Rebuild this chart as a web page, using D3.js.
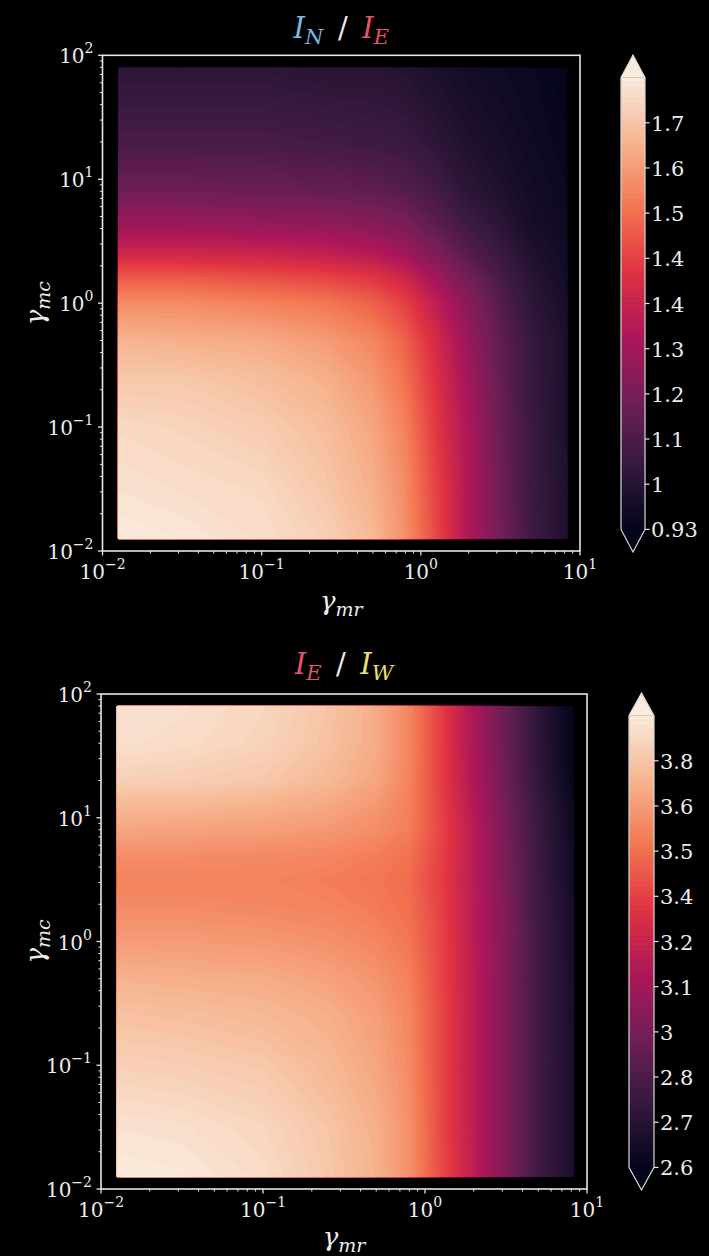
<!DOCTYPE html>
<html>
<head>
<meta charset="UTF-8">
<title>I_N / I_E and I_E / I_W</title>
<script src="https://d3js.org/d3.v7.min.js"></script>
<style>
  body { margin: 0; background: #000; }
  svg { display: block; background: #000; }
  text { fill: #ececec; font-family: "DejaVu Serif", "Liberation Serif", serif; }
  .tick-label { font-size: 20px; }
  .cb-label { font-size: 21px; }
  .axis-label { font-size: 26px; font-style: italic; }
  .title { font-size: 29px; }
</style>
</head>
<body>
<div id="chart"></div>
<script>
// gamma_mr sample positions (log10), shared by both grids
var colsLog = [-1.9, -1.5, -1.0, -0.6, -0.3, -0.1, 0.1, 0.3, 0.5, 0.7, 0.92];

// ---- top panel: I_N / I_E ----
// gamma_mc sample positions (log10), rows from bottom to top
var rowsLogTop = [-1.9, -1.5, -1.0, -0.6, -0.3, 0.0, 0.2, 0.4, 0.6, 0.9, 1.3, 1.9];
var valuesTop = [
  [1.78, 1.77, 1.75, 1.72, 1.67, 1.59, 1.45, 1.30, 1.18, 1.07, 1.00],
  [1.76, 1.75, 1.74, 1.70, 1.65, 1.58, 1.44, 1.30, 1.17, 1.06, 1.00],
  [1.74, 1.73, 1.71, 1.68, 1.63, 1.56, 1.42, 1.29, 1.16, 1.06, 0.99],
  [1.70, 1.70, 1.68, 1.65, 1.60, 1.53, 1.40, 1.27, 1.15, 1.05, 0.99],
  [1.66, 1.65, 1.64, 1.61, 1.57, 1.50, 1.38, 1.25, 1.14, 1.05, 0.99],
  [1.58, 1.58, 1.56, 1.54, 1.50, 1.44, 1.33, 1.22, 1.12, 1.03, 0.98],
  [1.49, 1.49, 1.47, 1.45, 1.42, 1.37, 1.27, 1.18, 1.09, 1.02, 0.97],
  [1.37, 1.37, 1.36, 1.34, 1.31, 1.27, 1.20, 1.12, 1.06, 1.00, 0.97],
  [1.27, 1.27, 1.26, 1.25, 1.23, 1.20, 1.14, 1.08, 1.03, 0.98, 0.96],
  [1.17, 1.17, 1.16, 1.15, 1.14, 1.12, 1.08, 1.03, 1.00, 0.97, 0.95],
  [1.09, 1.09, 1.09, 1.08, 1.07, 1.06, 1.03, 1.00, 0.98, 0.96, 0.94],
  [1.03, 1.03, 1.03, 1.02, 1.02, 1.01, 0.99, 0.97, 0.96, 0.95, 0.93]
];
var rangeTop = [0.93, 1.78];
var cbTicksTop = [0.93, 1.015, 1.1, 1.185, 1.27, 1.355, 1.44, 1.525, 1.61, 1.695];
var cbLabelsTop = ["0.93", "1", "1.1", "1.2", "1.3", "1.4", "1.4", "1.5", "1.6", "1.7"];

// ---- bottom panel: I_E / I_W ----
var rowsLogBottom = [-1.9, -1.5, -1.0, -0.6, -0.3, 0.0, 0.3, 0.5, 0.7, 0.9, 1.1, 1.3, 1.6, 1.9];
var valuesBottom = [
  [3.88, 3.87, 3.83, 3.76, 3.69, 3.59, 3.39, 3.19, 3.00, 2.80, 2.67],
  [3.85, 3.84, 3.81, 3.75, 3.68, 3.59, 3.38, 3.19, 3.00, 2.80, 2.67],
  [3.79, 3.78, 3.76, 3.71, 3.65, 3.57, 3.38, 3.19, 3.00, 2.80, 2.67],
  [3.74, 3.73, 3.71, 3.68, 3.63, 3.56, 3.38, 3.19, 3.00, 2.80, 2.66],
  [3.69, 3.68, 3.67, 3.64, 3.60, 3.54, 3.37, 3.19, 3.00, 2.80, 2.66],
  [3.62, 3.62, 3.61, 3.59, 3.56, 3.51, 3.37, 3.18, 3.00, 2.80, 2.65],
  [3.57, 3.57, 3.56, 3.55, 3.52, 3.49, 3.36, 3.18, 3.00, 2.79, 2.65],
  [3.55, 3.55, 3.55, 3.53, 3.51, 3.48, 3.35, 3.18, 2.98, 2.79, 2.63],
  [3.58, 3.58, 3.57, 3.56, 3.53, 3.50, 3.36, 3.18, 2.98, 2.78, 2.63],
  [3.65, 3.64, 3.63, 3.61, 3.58, 3.53, 3.37, 3.18, 2.97, 2.78, 2.62],
  [3.71, 3.71, 3.69, 3.66, 3.61, 3.54, 3.36, 3.16, 2.96, 2.77, 2.61],
  [3.79, 3.78, 3.76, 3.71, 3.65, 3.55, 3.35, 3.14, 2.94, 2.75, 2.59],
  [3.84, 3.83, 3.80, 3.74, 3.67, 3.56, 3.35, 3.13, 2.93, 2.74, 2.58],
  [3.85, 3.84, 3.81, 3.75, 3.67, 3.56, 3.35, 3.13, 2.93, 2.73, 2.58]
];
var rangeBottom = [2.58, 3.88];
var cbTicksBottom = [2.58, 2.71, 2.84, 2.97, 3.10, 3.23, 3.36, 3.49, 3.62, 3.75];
var cbLabelsBottom = ["2.6", "2.7", "2.8", "3", "3.1", "3.2", "3.4", "3.5", "3.6", "3.8"];

// axis decades
var xDecades = [0.01, 0.1, 1, 10];
var yDecades = [0.01, 0.1, 1, 10, 100];

// rocket colour map anchors
var rocketStops = [0, 1/7, 2/7, 3/7, 4/7, 5/7, 6/7, 1];
var rocketColors = ["#03051a", "#35193e", "#701f57", "#ad1759", "#e13342", "#f37651", "#f6b48f", "#faebdd"];
var rocket = d3.scaleLinear().domain(rocketStops).range(rocketColors).interpolate(d3.interpolateRgb).clamp(true);

var W = 709, H = 1256;
var svg = d3.select("#chart").append("svg").attr("width", W).attr("height", H);

var panels = [
  { values: valuesTop, rows: rowsLogTop, range: rangeTop, ticks: cbTicksTop, labels: cbLabelsTop,
    left: 102.5, right: 580, top: 55.3, bottom: 551,
    cbLeft: 621, cbRight: 645, cbTip0: 55, cbTip1: 552,
    titleY: 38, xlabY: 610,
    title: [["I", "N", "#76b9e2"], ["I", "E", "#e35468"]] },
  { values: valuesBottom, rows: rowsLogBottom, range: rangeBottom, ticks: cbTicksBottom, labels: cbLabelsBottom,
    left: 101, right: 587, top: 694, bottom: 1189,
    cbLeft: 629, cbRight: 654, cbTip0: 693, cbTip1: 1190,
    titleY: 674, xlabY: 1246,
    title: [["I", "E", "#e35468"], ["I", "W", "#e6e36a"]] }
];

panels.forEach(drawPanel);

function drawPanel(p) {
  var g = svg.append("g");
  var x = d3.scaleLog().domain([0.01, 10]).range([p.left, p.right]);
  var y = d3.scaleLog().domain([0.01, 100]).range([p.bottom, p.top]);
  var n = colsLog.length, m = p.rows.length;
  var vmin = p.range[0], vmax = p.range[1];
  var color = function(v) { return rocket((v - vmin) / (vmax - vmin)); };

  // grid coordinate -> log10 value
  var gx = d3.scaleLinear().domain(colsLog.map(function(d, i) { return i + 0.5; })).range(colsLog).clamp(true);
  var gy = d3.scaleLinear().domain(p.rows.map(function(d, i) { return i + 0.5; })).range(p.rows).clamp(true);
  var proj = d3.geoTransform({
    point: function(px, py) {
      this.stream.point(x(Math.pow(10, gx(px))), y(Math.pow(10, gy(py))));
    }
  });
  var path = d3.geoPath(proj);

  var flat = [];
  p.values.forEach(function(row) { row.forEach(function(v) { flat.push(v); }); });

  var nLev = 90;
  var levels = d3.range(nLev).map(function(k) { return vmin + (vmax - vmin) * k / nLev; });

  // base band
  var x0 = x(Math.pow(10, colsLog[0])), x1 = x(Math.pow(10, colsLog[n - 1]));
  var y0 = y(Math.pow(10, p.rows[0])), y1 = y(Math.pow(10, p.rows[m - 1]));
  g.append("rect").attr("x", x0).attr("y", y1).attr("width", x1 - x0).attr("height", y0 - y1)
    .attr("fill", color(vmin + (vmax - vmin) * 0.5 / nLev));

  var contours = d3.contours().size([n, m]).thresholds(levels.slice(1))(flat);
  g.append("g").selectAll("path").data(contours).join("path")
    .attr("d", path)
    .attr("fill", function(d, i) { return color(vmin + (vmax - vmin) * (i + 1.5) / nLev); })
    .attr("stroke", function(d, i) { return color(vmin + (vmax - vmin) * (i + 1.5) / nLev); })
    .attr("stroke-width", 0.4);

  // frame
  g.append("rect").attr("x", p.left).attr("y", p.top)
    .attr("width", p.right - p.left).attr("height", p.bottom - p.top)
    .attr("fill", "none").attr("stroke", "#e6e6e6").attr("stroke-width", 1.6);

  // ticks
  var minorX = [], minorY = [];
  xDecades.slice(0, -1).forEach(function(d) { for (var k = 2; k < 10; k++) minorX.push(d * k); });
  yDecades.slice(0, -1).forEach(function(d) { for (var k = 2; k < 10; k++) minorY.push(d * k); });
  g.selectAll(".xmaj").data(xDecades).join("line")
    .attr("x1", x).attr("x2", x).attr("y1", p.bottom).attr("y2", p.bottom + 4.5)
    .attr("stroke", "#e6e6e6").attr("stroke-width", 1.3);
  g.selectAll(".xmin").data(minorX).join("line")
    .attr("x1", x).attr("x2", x).attr("y1", p.bottom).attr("y2", p.bottom + 2.6)
    .attr("stroke", "#e6e6e6").attr("stroke-width", 1);
  g.selectAll(".ymaj").data(yDecades).join("line")
    .attr("y1", y).attr("y2", y).attr("x1", p.left).attr("x2", p.left - 4.5)
    .attr("stroke", "#e6e6e6").attr("stroke-width", 1.3);
  g.selectAll(".ymin").data(minorY).join("line")
    .attr("y1", y).attr("y2", y).attr("x1", p.left).attr("x2", p.left - 2.6)
    .attr("stroke", "#e6e6e6").attr("stroke-width", 1);

  function powLabel(sel, d) {
    var e = Math.round(Math.log10(d));
    sel.append("tspan").text("10");
    sel.append("tspan").attr("dy", -10).style("font-size", "14px").text(e < 0 ? "\u2212" + (-e) : String(e));
  }
  xDecades.forEach(function(d) {
    var t = g.append("text").attr("class", "tick-label").attr("x", x(d)).attr("y", p.bottom + 28)
      .attr("text-anchor", "middle");
    powLabel(t, d);
  });
  yDecades.forEach(function(d) {
    var t = g.append("text").attr("class", "tick-label").attr("x", p.left - 9).attr("y", y(d) + 8)
      .attr("text-anchor", "end");
    powLabel(t, d);
  });

  // axis labels
  var midX = (p.left + p.right) / 2, midY = (p.top + p.bottom) / 2;
  var xl = g.append("text").attr("class", "axis-label").attr("x", midX).attr("y", p.xlabY).attr("text-anchor", "middle");
  xl.append("tspan").text("\u03b3");
  xl.append("tspan").attr("dy", 6).style("font-size", "19px").text("mr");
  var yl = g.append("text").attr("class", "axis-label").attr("text-anchor", "middle")
    .attr("transform", "translate(44," + midY + ") rotate(-90)");
  yl.append("tspan").text("\u03b3");
  yl.append("tspan").attr("dy", 6).style("font-size", "19px").text("mc");

  // title
  var tt = g.append("text").attr("class", "title").attr("x", midX).attr("y", p.titleY).attr("text-anchor", "middle");
  tt.append("tspan").style("font-style", "italic").style("fill", p.title[0][2]).text(p.title[0][0]);
  tt.append("tspan").attr("dy", 6).style("font-size", "21px").style("font-style", "italic").style("fill", p.title[0][2]).text(p.title[0][1]);
  tt.append("tspan").attr("dy", -6).style("fill", "#ececec").text("\u2002/\u2002");
  tt.append("tspan").style("font-style", "italic").style("fill", p.title[1][2]).text(p.title[1][0]);
  tt.append("tspan").attr("dy", 6).style("font-size", "21px").style("font-style", "italic").style("fill", p.title[1][2]).text(p.title[1][1]);

  // colour bar with triangular extensions
  var total = p.cbTip1 - p.cbTip0;
  var body = total / 1.1, tri = body * 0.05;
  var bTop = p.cbTip0 + tri, bBot = p.cbTip1 - tri;
  var cb = d3.scaleLinear().domain([vmin, vmax]).range([bBot, bTop]);
  var cbMid = (p.cbLeft + p.cbRight) / 2;
  g.append("g").selectAll("rect").data(levels).join("rect")
    .attr("x", p.cbLeft).attr("width", p.cbRight - p.cbLeft)
    .attr("y", function(d) { return cb(d + (vmax - vmin) / nLev) - 0.3; })
    .attr("height", function(d) { return cb(d) - cb(d + (vmax - vmin) / nLev) + 0.6; })
    .attr("fill", function(d) { return color(d + (vmax - vmin) * 0.5 / nLev); });
  g.append("path")
    .attr("d", "M" + p.cbLeft + "," + bTop + "L" + cbMid + "," + p.cbTip0 + "L" + p.cbRight + "," + bTop + "Z")
    .attr("fill", rocket(1));
  g.append("path")
    .attr("d", "M" + p.cbLeft + "," + bBot + "L" + cbMid + "," + p.cbTip1 + "L" + p.cbRight + "," + bBot + "Z")
    .attr("fill", rocket(0));
  g.append("path")
    .attr("d", "M" + p.cbLeft + "," + bTop + "L" + cbMid + "," + p.cbTip0 + "L" + p.cbRight + "," + bTop +
      "L" + p.cbRight + "," + bBot + "L" + cbMid + "," + p.cbTip1 + "L" + p.cbLeft + "," + bBot + "Z")
    .attr("fill", "none").attr("stroke", "#d8d8d8").attr("stroke-width", 1.2);

  g.selectAll(".cbtick").data(p.ticks).join("line")
    .attr("x1", p.cbRight).attr("x2", p.cbRight + 4.5)
    .attr("y1", cb).attr("y2", cb)
    .attr("stroke", "#e6e6e6").attr("stroke-width", 1.2);
  g.selectAll(".cblab").data(p.ticks).join("text")
    .attr("class", "cb-label")
    .attr("x", p.cbRight + 6).attr("y", function(d) { return cb(d) + 8; })
    .text(function(d, i) { return p.labels[i]; });
}
</script>
</body>
</html>
